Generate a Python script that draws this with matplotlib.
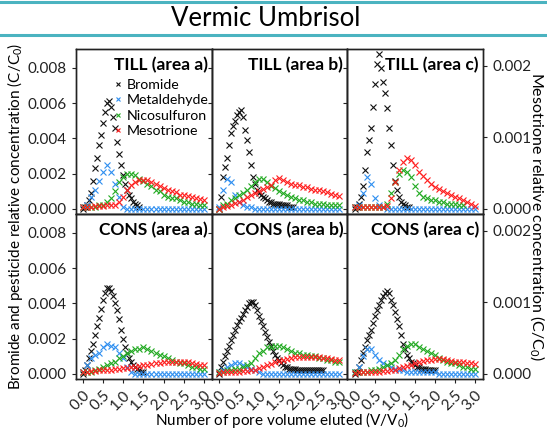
import matplotlib
matplotlib.use('Agg')
import matplotlib.pyplot as plt
from matplotlib.lines import Line2D

plt.rcParams['font.family'] = ['Lato', 'DejaVu Sans']
plt.rcParams['mathtext.fontset'] = 'custom'
plt.rcParams['mathtext.rm'] = 'Lato'
plt.rcParams['mathtext.it'] = 'Lato'

# pore volume grids (V/V0)
pv = [0.0, 0.1, 0.2, 0.3, 0.4, 0.5, 0.6, 0.7, 0.8, 0.9, 1.0, 1.1, 1.2, 1.3, 1.4, 1.5,
      1.6, 1.7, 1.8, 1.9, 2.0, 2.1, 2.2, 2.3, 2.4, 2.5, 2.6, 2.7, 2.8, 2.9, 3.0]
pv_fine = [0.0, 0.05, 0.1, 0.15, 0.2, 0.25, 0.3, 0.35, 0.4, 0.45, 0.5, 0.55, 0.6, 0.65,
           0.7, 0.75, 0.8, 0.85, 0.9, 0.95, 1.0, 1.05, 1.1, 1.15, 1.2, 1.25, 1.3, 1.35,
           1.4, 1.45, 1.5, 1.55, 1.6, 1.65, 1.7, 1.75, 1.8, 1.85, 1.9, 1.95, 2.0, 2.05,
           2.1, 2.15, 2.2, 2.25, 2.3, 2.35, 2.4, 2.45, 2.5, 2.55, 2.6]

panel_titles = ['TILL (area a)', 'TILL (area b)', 'TILL (area c)',
                'CONS (area a)', 'CONS (area b)', 'CONS (area c)']
compounds = ['Bromide', 'Metaldehyde', 'Nicosulfuron', 'Mesotrione']

# bromide (on pv_fine)
bromide = [
    [0.0, 0.0001, 0.0002, 0.0005, 0.0009, 0.0016, 0.0023, 0.0029, 0.0036, 0.0042, 0.0049,
     0.0055, 0.0060, 0.0061, 0.0058, 0.0052, 0.0046, 0.0038, 0.0031, 0.0025, 0.0019, 0.0014,
     0.0011, 0.0008, 0.0006, 0.0004, 0.0003, 0.0002, 0.0001],
    [0.0, 0.0007, 0.0018, 0.0024, 0.0029, 0.0036, 0.0043, 0.0047, 0.0050, 0.0053, 0.0055,
     0.0056, 0.0052, 0.0045, 0.0039, 0.0032, 0.0025, 0.0018, 0.0014, 0.0011, 0.0009, 0.0008,
     0.0007, 0.0006, 0.0005, 0.0004, 0.0004, 0.0003, 0.0003, 0.0003, 0.0003, 0.0002, 0.0002,
     0.0002, 0.0002, 0.0001, 0.0001, 0.0001],
    [0.0, 0.0001, 0.0003, 0.0007, 0.0013, 0.0022, 0.0032, 0.0039, 0.0046, 0.0058, 0.0071,
     0.0082, 0.0088, 0.0080, 0.0072, 0.0066, 0.0057, 0.0046, 0.0036, 0.0025, 0.0016, 0.0011,
     0.0007, 0.0004, 0.0003, 0.0002, 0.0001, 0.0001],
    [0.0, 0.0002, 0.0005, 0.0009, 0.0013, 0.0017, 0.0022, 0.0027, 0.0032, 0.0037, 0.0042,
     0.0046, 0.0049, 0.0049, 0.0047, 0.0044, 0.0040, 0.0036, 0.0031, 0.0025, 0.0020, 0.0015,
     0.0012, 0.0009, 0.0007, 0.0005, 0.0004, 0.0003, 0.0002, 0.0001, 0.0001],
    [0.0, 0.0004, 0.0007, 0.0010, 0.0013, 0.0016, 0.0019, 0.0022, 0.0025, 0.0028, 0.0030,
     0.0032, 0.0034, 0.0036, 0.0038, 0.0040, 0.0041, 0.0041, 0.0039, 0.0036, 0.0033, 0.0030,
     0.0027, 0.0024, 0.0021, 0.0018, 0.0016, 0.0013, 0.0011, 0.0009, 0.0008, 0.0006, 0.0005,
     0.0004, 0.0004, 0.0003, 0.0003, 0.0003, 0.0003, 0.0002, 0.0002, 0.0002, 0.0002, 0.0002,
     0.0002, 0.0002, 0.0002, 0.0002, 0.0002, 0.0002, 0.0002, 0.0002, 0.0002],
    [0.0, 0.0001, 0.0004, 0.0008, 0.0012, 0.0015, 0.0019, 0.0022, 0.0025, 0.0029, 0.0033,
     0.0036, 0.0039, 0.0042, 0.0044, 0.0046, 0.0047, 0.0046, 0.0042, 0.0039, 0.0035, 0.0031,
     0.0027, 0.0022, 0.0017, 0.0014, 0.0011, 0.0009, 0.0007, 0.0006, 0.0005, 0.0004, 0.0004,
     0.0003, 0.0003, 0.0003, 0.0002, 0.0002, 0.0002, 0.0002, 0.0002],
]

# metaldehyde (on pv)
metaldehyde = [
    [0.0001, 0.0002, 0.0007, 0.0011, 0.0016, 0.0021, 0.0025, 0.0021, 0.0014, 0.0007, 0.0001,
     0.0, 0.0, 0.0, 0.0, 0.0, 0.0, 0.0, 0.0, 0.0, 0.0, 0.0, 0.0, 0.0, 0.0, 0.0, 0.0, 0.0,
     0.0, 0.0, 0.0],
    [0.0001, 0.0011, 0.0017, 0.0015, 0.0008, 0.0004, 0.0002, 0.0001, 0.0001, 0.0, 0.0, 0.0,
     0.0, 0.0, 0.0, 0.0, 0.0, 0.0, 0.0, 0.0, 0.0, 0.0, 0.0, 0.0, 0.0, 0.0, 0.0, 0.0, 0.0,
     0.0, 0.0],
    [0.0001, 0.0002, 0.0009, 0.0018, 0.0014, 0.0006, 0.0002, 0.0001, 0.0, 0.0, 0.0, 0.0,
     0.0, 0.0, 0.0, 0.0, 0.0, 0.0, 0.0, 0.0, 0.0, 0.0, 0.0, 0.0, 0.0, 0.0, 0.0, 0.0, 0.0,
     0.0, 0.0],
    [0.0001, 0.0005, 0.0009, 0.0011, 0.0012, 0.0015, 0.0017, 0.0016, 0.0015, 0.0012, 0.0009,
     0.0004, 0.0001, 0.0, 0.0, 0.0, 0.0, 0.0, 0.0, 0.0, 0.0, 0.0, 0.0, 0.0, 0.0, 0.0, 0.0,
     0.0, 0.0, 0.0, 0.0],
    [0.0001, 0.0002, 0.0004, 0.0005, 0.0006, 0.0006, 0.0005, 0.0004, 0.0003, 0.0002, 0.0001,
     0.0, 0.0, 0.0, 0.0, 0.0, 0.0, 0.0, 0.0, 0.0, 0.0, 0.0, 0.0, 0.0, 0.0, 0.0, 0.0, 0.0,
     0.0, 0.0, 0.0],
    [0.0001, 0.0004, 0.0010, 0.0014, 0.0014, 0.0011, 0.0008, 0.0006, 0.0005, 0.0004, 0.0003,
     0.0002, 0.0002, 0.0001, 0.0001, 0.0001, 0.0001, 0.0001, 0.0001, 0.0001, 0.0001, 0.0,
     0.0, 0.0, 0.0, 0.0, 0.0, 0.0, 0.0, 0.0, 0.0],
]

# nicosulfuron (on pv)
nicosulfuron = [
    [0.0001, 0.0001, 0.0001, 0.0001, 0.0002, 0.0002, 0.0004, 0.0006, 0.0010, 0.0015, 0.0018,
     0.0020, 0.0020, 0.0019, 0.0017, 0.0016, 0.0014, 0.0013, 0.0011, 0.0010, 0.0008, 0.0007,
     0.0006, 0.0006, 0.0005, 0.0004, 0.0004, 0.0003, 0.0003, 0.0002, 0.0002],
    [0.0, 0.0002, 0.0003, 0.0005, 0.0006, 0.0008, 0.0009, 0.0011, 0.0013, 0.0015, 0.0017,
     0.0017, 0.0015, 0.0013, 0.0012, 0.0010, 0.0009, 0.0008, 0.0007, 0.0006, 0.0005, 0.0005,
     0.0004, 0.0004, 0.0003, 0.0003, 0.0003, 0.0002, 0.0002, 0.0002, 0.0002],
    [0.0001, 0.0001, 0.0001, 0.0001, 0.0001, 0.0001, 0.0001, 0.0001, 0.0003, 0.0009, 0.0015,
     0.0020, 0.0022, 0.0021, 0.0018, 0.0013, 0.0009, 0.0007, 0.0006, 0.0005, 0.0005, 0.0004,
     0.0004, 0.0003, 0.0003, 0.0003, 0.0002, 0.0002],
    [0.0001, 0.0001, 0.0001, 0.0002, 0.0003, 0.0004, 0.0005, 0.0006, 0.0007, 0.0009, 0.0010,
     0.0012, 0.0013, 0.0014, 0.0014, 0.0015, 0.0014, 0.0013, 0.0012, 0.0011, 0.0010, 0.0009,
     0.0008, 0.0007, 0.0006, 0.0006, 0.0005, 0.0004, 0.0004, 0.0003, 0.0003],
    [0.0001, 0.0001, 0.0002, 0.0002, 0.0003, 0.0003, 0.0004, 0.0005, 0.0006, 0.0009, 0.0012,
     0.0013, 0.0015, 0.0015, 0.0016, 0.0016, 0.0015, 0.0014, 0.0013, 0.0012, 0.0012, 0.0011,
     0.0011, 0.0010, 0.0010, 0.0009, 0.0009, 0.0008, 0.0008, 0.0007, 0.0007],
    [0.0001, 0.0001, 0.0001, 0.0001, 0.0002, 0.0002, 0.0003, 0.0004, 0.0005, 0.0006, 0.0008,
     0.0011, 0.0014, 0.0016, 0.0017, 0.0017, 0.0015, 0.0014, 0.0013, 0.0012, 0.0011, 0.0009,
     0.0008, 0.0007, 0.0006, 0.0006, 0.0005, 0.0004, 0.0004, 0.0003, 0.0003],
]

# mesotrione (on pv, right axis)
mesotrione = [
    [0.00002, 0.00003, 0.00003, 0.00004, 0.00004, 0.00004, 0.00005, 0.00005, 0.00005,
     0.0001, 0.00017, 0.00026, 0.00033, 0.00038, 0.0004, 0.00041, 0.0004, 0.00038, 0.00035,
     0.00032, 0.00029, 0.00027, 0.00025, 0.00023, 0.0002, 0.00019, 0.00018, 0.00016,
     0.00015, 0.00014, 0.00013],
    [0.0, 0.00003, 0.00004, 0.00006, 0.00008, 0.0001, 0.00013, 0.00016, 0.00019, 0.00022,
     0.00025, 0.00028, 0.0003, 0.00034, 0.0004, 0.00043, 0.00041, 0.00037, 0.00035, 0.00034,
     0.00033, 0.00031, 0.0003, 0.00028, 0.00027, 0.00026, 0.00025, 0.00023, 0.00021,
     0.0002, 0.00018],
    [0.00002, 0.00002, 0.00002, 0.00002, 0.00002, 0.00002, 0.00002, 0.00002, 0.00004,
     0.00015, 0.00038, 0.00055, 0.00066, 0.00071, 0.00068, 0.00061, 0.00052, 0.00046,
     0.0004, 0.00035, 0.00031, 0.00028, 0.00025, 0.00022, 0.0002, 0.00017, 0.00015,
     0.00012, 0.00009, 0.00007, 0.00004],
    [0.00002, 0.00003, 0.00004, 0.00004, 0.00005, 0.00005, 0.00006, 0.00006, 0.00007,
     0.00007, 0.00008, 0.00008, 0.00009, 0.0001, 0.00011, 0.00012, 0.00013, 0.00014,
     0.00015, 0.00015, 0.00016, 0.00016, 0.00017, 0.00017, 0.00017, 0.00016, 0.00016,
     0.00015, 0.00014, 0.00013, 0.00012],
    [0.00001, 0.00002, 0.00002, 0.00002, 0.00003, 0.00003, 0.00004, 0.00004, 0.00005,
     0.00006, 0.00008, 0.0001, 0.00012, 0.00014, 0.00016, 0.00018, 0.0002, 0.00021,
     0.00022, 0.00023, 0.00024, 0.00024, 0.00024, 0.00024, 0.00023, 0.00023, 0.00022,
     0.00022, 0.00021, 0.0002, 0.0002],
    [0.00001, 0.00002, 0.00002, 0.00002, 0.00002, 0.00003, 0.00003, 0.00004, 0.00004,
     0.00005, 0.00006, 0.00008, 0.0001, 0.00011, 0.00013, 0.00015, 0.00016, 0.00018,
     0.00019, 0.0002, 0.00021, 0.00021, 0.00021, 0.0002, 0.00018, 0.00017, 0.00017,
     0.00016, 0.00015, 0.00015, 0.00014],
]

left_ticks = [0.0, 0.002, 0.004, 0.006, 0.008]
right_ticks = [0.0, 0.001, 0.002]
x_ticks = [0.0, 0.5, 1.0, 1.5, 2.0, 2.5, 3.0]

c_br, c_met, c_nic, c_mes = '#111111', '#2f8ff0', '#22aa22', '#ff1f1f'
ms, mew = 4.2, 0.8

fig, axes = plt.subplots(2, 3, figsize=(5.47, 4.32), dpi=100, sharex=True)
fig.subplots_adjust(left=0.139, right=0.883, top=0.887, bottom=0.123, wspace=0, hspace=0)

for i, ax in enumerate(axes.flat):
    row, col = divmod(i, 3)
    ax.plot(pv_fine[:len(bromide[i])], bromide[i], 'x', color=c_br, ms=ms, mew=mew)
    ax.plot(pv, metaldehyde[i], 'x', color=c_met, ms=ms, mew=mew)
    ax.plot(pv[:len(nicosulfuron[i])], nicosulfuron[i], 'x', color=c_nic, ms=ms, mew=mew)
    ax.set_xlim(-0.18, 3.2)
    ax.set_ylim(-0.00028, 0.00908)
    ax.set_yticks(left_ticks)
    ax.set_xticks(x_ticks)
    ax.tick_params(direction='out', length=3, width=0.8, labelsize=11, colors='#222222')
    if col == 0:
        ax.set_yticklabels(['%.3f' % t for t in left_ticks])
    else:
        ax.set_yticklabels([])
    if row == 1:
        ax.set_xticklabels(['%.1f' % t for t in x_ticks], rotation=45, ha='right',
                           rotation_mode='anchor')
    ax.text(0.97, 0.95, panel_titles[i], transform=ax.transAxes, ha='right', va='top',
            fontsize=12.5, fontweight='bold')

    ax2 = ax.twinx()
    ax2.plot(pv, mesotrione[i], 'x', color=c_mes, ms=ms, mew=mew)
    ax2.set_ylim(-0.00007, 0.00224)
    if col == 2:
        ax2.set_yticks(right_ticks)
        ax2.set_yticklabels(['%.3f' % t for t in right_ticks])
        ax2.tick_params(direction='out', length=3, width=0.8, labelsize=11, colors='#222222')
    else:
        ax2.set_yticks([])
    for a in (ax, ax2):
        for s in a.spines.values():
            s.set_linewidth(1.0)
            s.set_color('#222222')

handles = [Line2D([], [], ls='none', marker='x', color=c, ms=3.5, mew=0.8)
           for c in (c_br, c_met, c_nic, c_mes)]
axes[0, 0].legend(handles, compounds, loc='upper left', bbox_to_anchor=(0.275, 0.82),
                  frameon=False, fontsize=10.2, handlelength=0.6, handletextpad=0.35,
                  labelspacing=0.25, borderpad=0, borderaxespad=0)

fig.text(0.485, 0.958, 'Vermic Umbrisol', ha='center', va='center', fontsize=18.5)
for yy in (0.995, 0.918):
    fig.add_artist(Line2D([0, 1], [yy, yy], transform=fig.transFigure,
                          color='#4bb3c0', lw=2.2))

fig.text(0.027, 0.50, 'Bromide and pesticide relative concentration (C/C$_0$)',
         rotation=90, ha='center', va='center', fontsize=11)
fig.text(0.983, 0.50, 'Mesotrione relative concentration (C/C$_0$)',
         rotation=270, ha='center', va='center', fontsize=11.5)
fig.text(0.516, 0.028, 'Number of pore volume eluted (V/V$_0$)',
         ha='center', va='center', fontsize=11)

fig.savefig('out.png', dpi=100)
